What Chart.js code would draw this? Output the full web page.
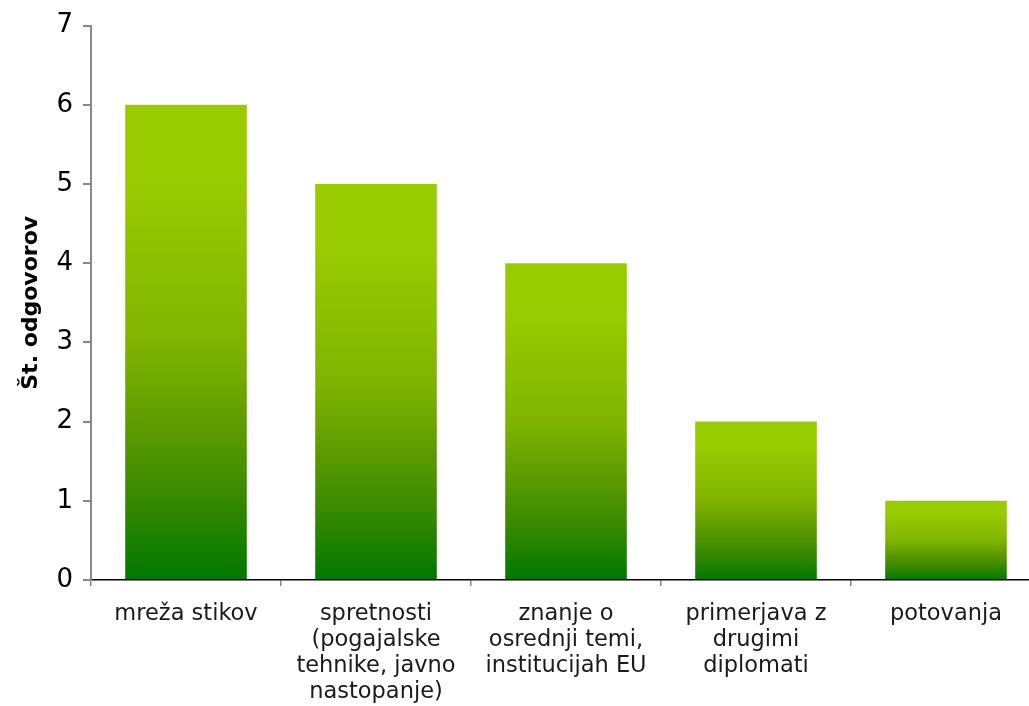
<!DOCTYPE html>
<html lang="sl">
<head>
    <meta charset="UTF-8">
    <title>Št. odgovorov</title>
    <script src="https://cdn.jsdelivr.net/npm/chart.js"></script>
    <style>
        html, body { margin: 0; padding: 0; background: #fff; overflow: hidden; }
        #wrap { width: 1029px; height: 706px; overflow: hidden; }
    </style>
</head>
<body>
    <div id="wrap">
        <canvas id="odgovori" width="1045" height="706"></canvas>
    </div>

    <script>
        const categories = [
            ['mreža stikov'],
            ['spretnosti', '(pogajalske', 'tehnike, javno', 'nastopanje)'],
            ['znanje o', 'osrednji temi,', 'institucijah EU'],
            ['primerjava z', 'drugimi', 'diplomati'],
            ['potovanja']
        ];
        const counts = [6, 5, 4, 2, 1];
        const yTicks = [0, 1, 2, 3, 4, 5, 6, 7];

        // each bar gets its own gradient, light at the top, dark green at the base
        function barGradient(context) {
            const chart = context.chart;
            const yScale = chart.scales.y;
            if (!chart.chartArea || !yScale) return '#66aa00';
            const v = context.raw;
            const top = yScale.getPixelForValue(v);
            const base = yScale.getPixelForValue(0);
            if (!isFinite(top) || !isFinite(base) || top === base) return '#66aa00';
            const g = chart.ctx.createLinearGradient(0, top, 0, base);
            g.addColorStop(0, '#99cc00');
            g.addColorStop(0.15, '#99cc00');
            g.addColorStop(0.5, '#80b400');
            g.addColorStop(0.67, '#5e9c00');
            g.addColorStop(0.82, '#3a8a00');
            g.addColorStop(1, '#007800');
            return g;
        }

        new Chart(document.getElementById('odgovori'), {
            type: 'bar',
            data: {
                labels: categories,
                datasets: [{
                    data: counts,
                    backgroundColor: barGradient,
                    borderWidth: 0,
                    barPercentage: 0.64,
                    categoryPercentage: 1
                }]
            },
            options: {
                responsive: false,
                animation: false,
                layout: { padding: { top: 22, right: 4, bottom: 0, left: 0 } },
                plugins: {
                    legend: { display: false },
                    tooltip: { enabled: false }
                },
                scales: {
                    x: {
                        afterFit: s => { s.height = 126; },
                        grid: {
                            offset: true,
                            drawOnChartArea: false,
                            tickLength: 6,
                            color: '#888',
                            lineWidth: 1.5
                        },
                        border: { color: '#000', width: 1.5 },
                        ticks: {
                            maxRotation: 0,
                            autoSkip: false,
                            padding: 15,
                            color: '#1a1a1a',
                            font: { family: 'DejaVu Sans', size: 22.5, lineHeight: 1.156 }
                        }
                    },
                    y: {
                        min: 0,
                        max: 7,
                        afterFit: s => { s.width = 91; },
                        afterBuildTicks: s => { s.ticks = yTicks.map(v => ({ value: v })); },
                        grid: {
                            drawOnChartArea: false,
                            tickLength: 8,
                            color: '#888',
                            lineWidth: 2
                        },
                        border: { color: '#888', width: 2 },
                        ticks: {
                            padding: 10,
                            color: '#000',
                            font: { family: 'DejaVu Sans', size: 26 }
                        },
                        title: {
                            display: true,
                            text: 'Št. odgovorov',
                            color: '#000',
                            padding: { top: 18, bottom: 0 },
                            font: { family: 'DejaVu Sans', size: 22, weight: 'bold' }
                        }
                    }
                }
            }
        });
    </script>
</body>
</html>
